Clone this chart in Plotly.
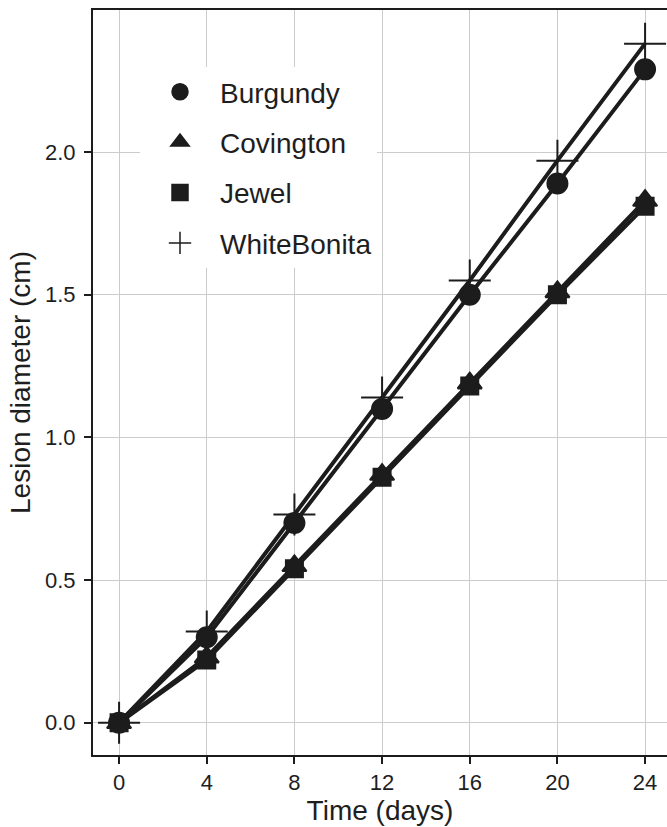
import plotly.graph_objects as go

days = [0, 4, 8, 12, 16, 20, 24]
burgundy = [0.0, 0.30, 0.70, 1.10, 1.50, 1.89, 2.29]
covington = [0.0, 0.23, 0.55, 0.87, 1.19, 1.51, 1.83]
jewel = [0.0, 0.22, 0.54, 0.86, 1.18, 1.50, 1.81]
whitebonita = [0.0, 0.32, 0.73, 1.14, 1.55, 1.97, 2.38]

names = ["Burgundy", "Covington", "Jewel", "WhiteBonita"]
series = [burgundy, covington, jewel, whitebonita]
symbols = ["circle", "triangle-up", "square", "cross-thin"]
sizes = [20, 21, 17, 30]
INK = "#1c1c1c"
TXT = "#1e1e1e"
FONT = "Liberation Sans, Arial, sans-serif"

fig = go.Figure()
for name, vals, sym, sz in zip(names, series, symbols, sizes):
    fig.add_trace(go.Scatter(
        x=days, y=vals, mode="lines+markers", name=name, showlegend=False,
        line=dict(color=INK, width=4),
        marker=dict(symbol=sym, size=sz, color=INK, line=dict(width=2, color=INK)),
    ))
for i, (name, sym, sz) in enumerate(zip(names, symbols, sizes)):
    fig.add_trace(go.Scatter(
        x=[None], y=[None], mode="markers", name=name, legendgroup=f"g{i}",
        marker=dict(symbol=sym, size=sz, color=INK, line=dict(width=1.5, color=INK)),
    ))

tick_font = dict(family=FONT, size=22, color=TXT)
title_font = dict(family=FONT, size=28, color=TXT)
fig.update_layout(
    width=667, height=827,
    margin=dict(l=93, r=0, t=10, b=72),
    paper_bgcolor="white", plot_bgcolor="white",
    font=dict(family=FONT, color=TXT),
    legend=dict(
        x=0.0819, y=0.9235, xanchor="left", yanchor="top",
        bgcolor="white", font=dict(family=FONT, size=28, color=TXT),
        tracegroupgap=11, itemsizing="trace", itemwidth=70,
    ),
    xaxis=dict(
        range=[-1.19, 25.0], tickvals=days, ticktext=[str(d) for d in days],
        showgrid=True, gridcolor="#cccccc", gridwidth=1,
        showline=True, linecolor=INK, linewidth=2, mirror=True,
        ticks="outside", ticklen=7, tickwidth=2, tickcolor=INK,
        tickfont=tick_font, zeroline=False,
        title=dict(text="Time (days)", font=title_font, standoff=1),
    ),
    yaxis=dict(
        range=[-0.113, 2.498], tickvals=[0, 0.5, 1.0, 1.5, 2.0],
        ticktext=["0.0", "0.5", "1.0", "1.5", "2.0"],
        showgrid=True, gridcolor="#cccccc", gridwidth=1,
        showline=True, linecolor=INK, linewidth=2, mirror=False,
        ticks="outside", ticklen=7, tickwidth=2, tickcolor=INK,
        tickfont=tick_font, zeroline=False, ticklabelstandoff=4,
        title=dict(text="Lesion diameter (cm)", font=title_font, standoff=6),
    ),
)
fig.write_html(
    "out.html",
    config={"displayModeBar": False},
    post_script="document.body.style.margin='0';document.documentElement.style.overflow='hidden';document.body.style.overflow='hidden';",
)
